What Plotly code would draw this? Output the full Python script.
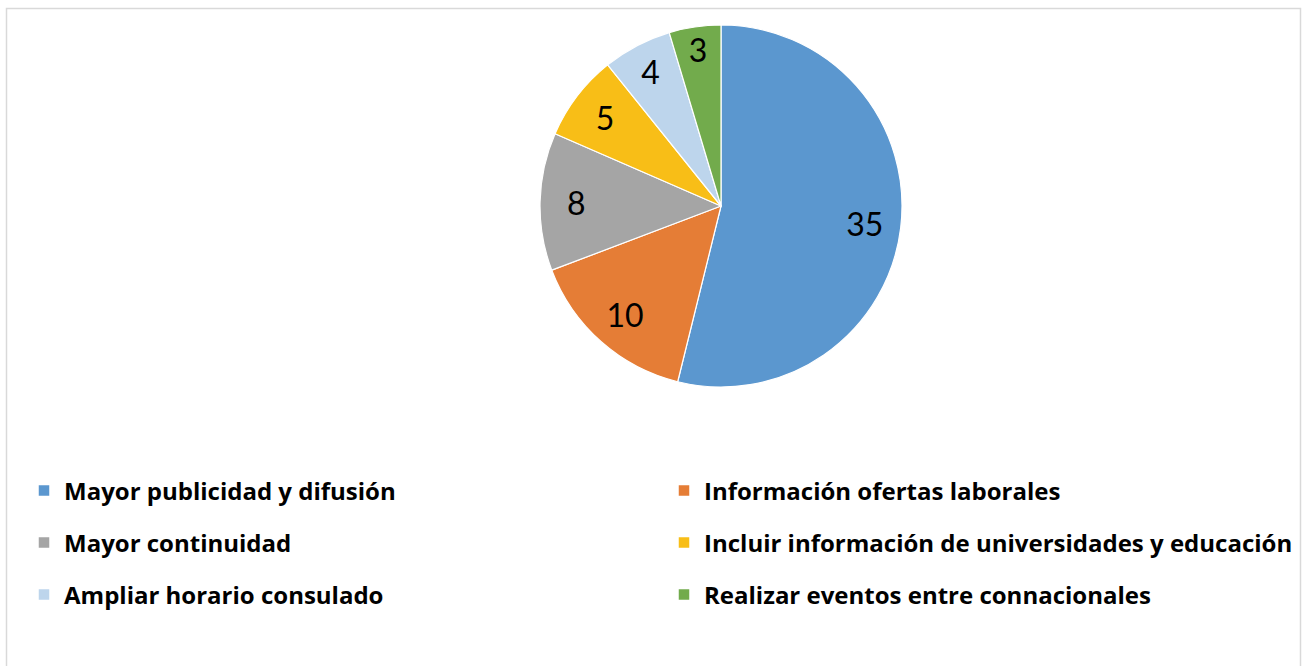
import plotly.graph_objects as go

categories = [
    "Mayor publicidad y difusión",
    "Información ofertas laborales",
    "Mayor continuidad",
    "Incluir información de universidades y educación",
    "Ampliar horario consulado",
    "Realizar eventos entre connacionales",
]
values = [35, 10, 8, 5, 4, 3]
colors = ["#5B97CF", "#E57D36", "#A5A5A5", "#F8BE17", "#BDD5EC", "#72AB4C"]

W, H = 1308, 666
cx, cy, R = 721, 206, 181
dom = dict(x=[(cx - R) / W, (cx + R) / W], y=[1 - (cy + R) / H, 1 - (cy - R) / H])

fig = go.Figure()
fig.add_trace(go.Pie(
    labels=categories, values=values, sort=False, direction="clockwise", rotation=0,
    marker=dict(colors=colors, line=dict(color="white", width=1.2)),
    textinfo="none", domain=dom, showlegend=False, hoverinfo="label+value",
))
# transparent ring carrying the value labels (placed toward the outer part of slices)
fig.add_trace(go.Pie(
    labels=categories, values=values, sort=False, direction="clockwise", rotation=0,
    hole=0.6,
    marker=dict(colors=["rgba(0,0,0,0)"] * len(values), line=dict(width=0)),
    textinfo="value", textposition="inside", insidetextorientation="horizontal",
    textfont=dict(family="Lato", size=32, color="black"),
    domain=dom, showlegend=False, hoverinfo="skip",
))

legend_names = ["legend", "legend2", "legend3"]
for i, (name, col) in enumerate(zip(categories, colors)):
    fig.add_trace(go.Scatter(
        x=[None], y=[None], mode="markers", name=name,
        marker=dict(symbol="square", size=10.5, color=col),
        legend=legend_names[i // 2], showlegend=True,
    ))

row_y = [491, 543, 595]
leg_common = dict(
    orientation="h", xanchor="left", yanchor="middle", x=24 / W,
    font=dict(family="Open Sans", size=24, color="black", weight="bold"),
    entrywidth=595, bgcolor="rgba(0,0,0,0)", itemsizing="trace",
)
layout_legends = {}
for k, ln in enumerate(legend_names):
    layout_legends[ln] = dict(leg_common, y=1 - row_y[k] / H)

fig.update_layout(
    width=W, height=H,
    margin=dict(l=0, r=0, t=0, b=0, autoexpand=False),
    paper_bgcolor="white", plot_bgcolor="white",
    xaxis=dict(visible=False), yaxis=dict(visible=False),
    shapes=[dict(type="rect", xref="paper", yref="paper",
                 x0=6.5 / W, x1=1300.5 / W, y0=-0.05, y1=1 - 8.5 / H,
                 line=dict(color="#D9D9D9", width=1.5))],
    **layout_legends,
)

fig.write_html("out.html", config={"displayModeBar": False},
               post_script="document.body.style.margin='0';")
